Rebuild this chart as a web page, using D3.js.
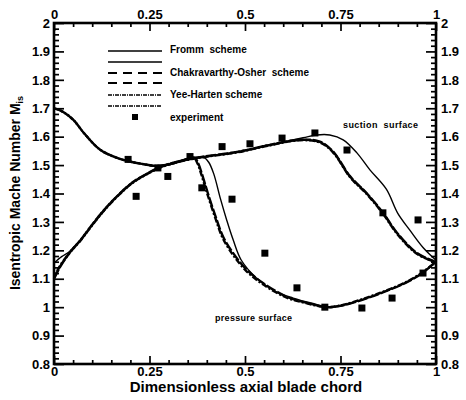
<!DOCTYPE html>
<html>
<head>
<meta charset="utf-8">
<script src="https://cdn.jsdelivr.net/npm/d3@7"></script>
<style>
  body { margin: 0; background: #fff; }
  text { font-family: "Liberation Sans", Arial, sans-serif; font-weight: bold; fill: #000; }
</style>
</head>
<body>
<div id="chart"></div>
<script>
const width = 466;
const height = 400;

// tick labels
const xTicks = [0, 0.25, 0.5, 0.75, 1];
const xTickLabels = ["0", "0.25", "0.5", "0.75", "1"];
const yTicks = [0.8, 0.9, 1, 1.1, 1.2, 1.3, 1.4, 1.5, 1.6, 1.7, 1.8, 1.9, 2];
const yTickLabels = ["0.8", "0.9", "1", "1.1", "1.2", "1.3", "1.4", "1.5", "1.6", "1.7", "1.8", "1.9", "2"];

// Fromm scheme (thin solid)
const frommPressure = [
  [0, 1.70], [0.02, 1.69], [0.05, 1.66], [0.08, 1.61], [0.12, 1.555], [0.165, 1.525],
  [0.2, 1.512], [0.235, 1.503], [0.27, 1.497], [0.31, 1.505], [0.35, 1.522], [0.375, 1.528],
  [0.392, 1.527], [0.405, 1.51], [0.418, 1.47], [0.436, 1.38], [0.452, 1.307], [0.469, 1.237],
  [0.49, 1.166], [0.53, 1.103], [0.583, 1.053], [0.626, 1.032], [0.678, 1.013], [0.714, 1.002],
  [0.75, 1.005], [0.783, 1.016], [0.853, 1.048], [0.924, 1.088], [0.966, 1.122], [1.0, 1.16]
];
const frommSuction = [
  [0, 1.155], [0.02, 1.178], [0.04, 1.195], [0.07, 1.237], [0.1, 1.29], [0.13, 1.34],
  [0.165, 1.39], [0.207, 1.44], [0.251, 1.475], [0.27, 1.488], [0.304, 1.505], [0.35, 1.52],
  [0.39, 1.529], [0.479, 1.546], [0.565, 1.571], [0.652, 1.596], [0.688, 1.606], [0.722, 1.606],
  [0.757, 1.589], [0.793, 1.543], [0.827, 1.483], [0.87, 1.415], [0.90, 1.33], [0.932, 1.27],
  [0.966, 1.21], [1.0, 1.165]
];

// Chakravarthy-Osher scheme (dashed)
const coPressure = [
  [0, 1.70], [0.02, 1.69], [0.05, 1.66], [0.08, 1.61], [0.12, 1.555], [0.165, 1.525],
  [0.2, 1.512], [0.235, 1.503], [0.27, 1.497], [0.31, 1.505], [0.35, 1.522], [0.368, 1.526],
  [0.378, 1.505], [0.387, 1.47], [0.403, 1.40], [0.426, 1.307], [0.443, 1.247], [0.469, 1.19],
  [0.505, 1.131], [0.547, 1.085], [0.61, 1.036], [0.662, 1.015], [0.714, 1.0], [0.75, 1.005],
  [0.783, 1.016], [0.853, 1.048], [0.924, 1.088], [0.966, 1.122], [1.0, 1.16]
];
const coSuction = [
  [0, 1.10], [0.015, 1.14], [0.04, 1.19], [0.07, 1.237], [0.1, 1.29], [0.13, 1.34],
  [0.165, 1.39], [0.207, 1.44], [0.251, 1.475], [0.27, 1.488], [0.304, 1.505], [0.35, 1.52],
  [0.39, 1.529], [0.479, 1.546], [0.565, 1.571], [0.644, 1.589], [0.696, 1.582], [0.73, 1.548],
  [0.775, 1.46], [0.819, 1.40], [0.861, 1.332], [0.898, 1.261], [0.95, 1.19], [1.0, 1.158]
];

// Yee-Harten scheme (dash-dot)
const yhPressure = [
  [0, 1.70], [0.02, 1.69], [0.05, 1.66], [0.08, 1.61], [0.12, 1.555], [0.165, 1.525],
  [0.2, 1.512], [0.235, 1.503], [0.27, 1.497], [0.31, 1.505], [0.35, 1.522], [0.366, 1.525],
  [0.376, 1.505], [0.385, 1.47], [0.401, 1.40], [0.424, 1.307], [0.441, 1.245], [0.467, 1.187],
  [0.503, 1.128], [0.545, 1.082], [0.608, 1.034], [0.66, 1.014], [0.714, 1.0], [0.75, 1.006],
  [0.783, 1.018], [0.853, 1.05], [0.924, 1.09], [0.966, 1.124], [1.0, 1.16]
];
const yhSuction = [
  [0, 1.105], [0.015, 1.143], [0.04, 1.19], [0.07, 1.236], [0.1, 1.289], [0.13, 1.339],
  [0.165, 1.389], [0.207, 1.439], [0.251, 1.474], [0.27, 1.487], [0.304, 1.504], [0.35, 1.519],
  [0.39, 1.528], [0.479, 1.545], [0.565, 1.57], [0.644, 1.588], [0.696, 1.58], [0.73, 1.546],
  [0.775, 1.458], [0.819, 1.398], [0.861, 1.33], [0.898, 1.259], [0.95, 1.188], [1.0, 1.158]
];

// experiment
const expX = [0.194, 0.215, 0.272, 0.298, 0.356, 0.387, 0.44, 0.466, 0.513, 0.552,
  0.597, 0.636, 0.683, 0.709, 0.767, 0.806, 0.861, 0.885, 0.953, 0.966];
const expY = [1.52, 1.39, 1.49, 1.46, 1.53, 1.42, 1.565, 1.38, 1.575, 1.19,
  1.595, 1.068, 1.613, 1.0, 1.553, 0.997, 1.332, 1.032, 1.307, 1.12];

const legendNames = ["Fromm  scheme", "Chakravarthy-Osher  scheme", "Yee-Harten scheme", "experiment"];

const x = d3.scaleLinear().domain([0, 1]).range([54, 436]);
const y = d3.scaleLinear().domain([0.8, 2]).range([364, 23]);

const svg = d3.select("#chart").append("svg")
  .attr("width", width)
  .attr("height", height);

const fmtX = (d) => xTickLabels[xTicks.indexOf(d)];
const fmtY = (d) => yTickLabels[yTicks.findIndex((t) => Math.abs(t - d) < 1e-9)];

const xMinor = d3.range(0, 1.0001, 0.05).filter((v) => Math.abs(v * 4 - Math.round(v * 4)) > 1e-6);
const yMinor = d3.range(0.8, 2.0001, 0.02).filter((v) => Math.abs(v * 10 - Math.round(v * 10)) > 1e-6);

function styleAxis(g) {
  g.select(".domain").remove();
  g.selectAll("line").attr("stroke", "#000").attr("stroke-width", 1.7);
  g.selectAll("text").style("font-size", "13px").style("font-family", "Liberation Sans, Arial, sans-serif").style("font-weight", "bold");
}

// bottom
svg.append("g").attr("transform", `translate(0,${y(0.8)})`)
  .call(d3.axisBottom(x).tickValues(xTicks).tickFormat(fmtX).tickSize(-8).tickPadding(3))
  .call(styleAxis);
svg.append("g").attr("transform", `translate(0,${y(0.8)})`)
  .call(d3.axisBottom(x).tickValues(xMinor).tickFormat("").tickSize(-4))
  .call(styleAxis);
// top
svg.append("g").attr("transform", `translate(0,${y(2)})`)
  .call(d3.axisTop(x).tickValues(xTicks).tickFormat(fmtX).tickSize(-8).tickPadding(4))
  .call(styleAxis);
svg.append("g").attr("transform", `translate(0,${y(2)})`)
  .call(d3.axisTop(x).tickValues(xMinor).tickFormat("").tickSize(-4))
  .call(styleAxis);
// left
svg.append("g").attr("transform", `translate(${x(0)},0)`)
  .call(d3.axisLeft(y).tickValues(yTicks).tickFormat(fmtY).tickSize(-10).tickPadding(4))
  .call(styleAxis);
svg.append("g").attr("transform", `translate(${x(0)},0)`)
  .call(d3.axisLeft(y).tickValues(yMinor).tickFormat("").tickSize(-5))
  .call(styleAxis);
// right
svg.append("g").attr("transform", `translate(${x(1)},0)`)
  .call(d3.axisRight(y).tickValues(yTicks).tickFormat(fmtY).tickSize(-10).tickPadding(5))
  .call(styleAxis);
svg.append("g").attr("transform", `translate(${x(1)},0)`)
  .call(d3.axisRight(y).tickValues(yMinor).tickFormat("").tickSize(-5))
  .call(styleAxis);

// frame
svg.append("rect")
  .attr("x", x(0)).attr("y", y(2))
  .attr("width", x(1) - x(0)).attr("height", y(0.8) - y(2))
  .attr("fill", "none").attr("stroke", "#000").attr("stroke-width", 2.6);

const line = d3.line().x((d) => x(d[0])).y((d) => y(d[1])).curve(d3.curveCatmullRom.alpha(0.5));

const series = [
  { data: frommPressure, w: 1.4, dash: null, off: 0 },
  { data: frommSuction, w: 1.4, dash: null, off: 0 },
  { data: coPressure, w: 2.4, dash: "10,2", off: 0 },
  { data: coSuction, w: 2.6, dash: "10,2", off: 0 },
  { data: yhPressure, w: 2.4, dash: "6,2,2,2", off: 5 },
  { data: yhSuction, w: 2.6, dash: "6,2,2,2", off: 5 }
];

svg.append("g").selectAll("path")
  .data(series)
  .enter()
  .append("path")
  .attr("d", (d) => line(d.data))
  .attr("fill", "none")
  .attr("stroke", "#000")
  .attr("stroke-width", (d) => d.w)
  .attr("stroke-dasharray", (d) => d.dash)
  .attr("stroke-dashoffset", (d) => d.off);

// experiment squares
svg.append("g").selectAll("rect")
  .data(expX.map((v, i) => [v, expY[i]]))
  .enter()
  .append("rect")
  .attr("x", (d) => x(d[0]) - 3.5)
  .attr("y", (d) => y(d[1]) - 3.5)
  .attr("width", 7)
  .attr("height", 7)
  .attr("fill", "#000");

// legend
const legend = svg.append("g");
const legendRows = [
  { name: legendNames[0], ty: 49, lines: [51, 62], dash: null, w: 1.6 },
  { name: legendNames[1], ty: 72, lines: [73, 83], dash: "9,6", w: 2 },
  { name: legendNames[2], ty: 94, lines: [95, 106], dash: "4,1,1,1", w: 1.6 }
];
legendRows.forEach((r) => {
  r.lines.forEach((ly) => {
    legend.append("line")
      .attr("x1", 108).attr("x2", 162)
      .attr("y1", ly).attr("y2", ly)
      .attr("stroke", "#000")
      .attr("stroke-width", r.w)
      .attr("stroke-dasharray", r.dash);
  });
  legend.append("text")
    .attr("x", 170).attr("y", r.ty)
    .attr("dy", "0.35em")
    .style("font-size", "10px")
    .attr("xml:space", "preserve")
    .text(r.name);
});
legend.append("rect")
  .attr("x", 132).attr("y", 114).attr("width", 6).attr("height", 6).attr("fill", "#000");
legend.append("text")
  .attr("x", 170).attr("y", 117).attr("dy", "0.35em")
  .style("font-size", "10px")
  .text(legendNames[3]);

// surface labels
svg.append("text").attr("x", 343).attr("y", 125).attr("dy", "0.35em")
  .style("font-size", "9px").style("letter-spacing", "0.4px")
  .attr("xml:space", "preserve").text("suction  surface");
svg.append("text").attr("x", 215).attr("y", 318).attr("dy", "0.35em")
  .style("font-size", "9px").style("letter-spacing", "0.3px")
  .text("pressure surface");

// axis titles
svg.append("text")
  .attr("x", 246).attr("y", 392)
  .attr("text-anchor", "middle")
  .style("font-size", "15px")
  .text("Dimensionless axial blade chord");

const yTitle = svg.append("text")
  .attr("transform", "translate(20,193) rotate(-90)")
  .attr("text-anchor", "middle")
  .style("font-size", "14px");
yTitle.append("tspan").text("Isentropic Mache Number M");
yTitle.append("tspan").attr("dy", 3).style("font-size", "9px").text("is");
</script>
</body>
</html>
